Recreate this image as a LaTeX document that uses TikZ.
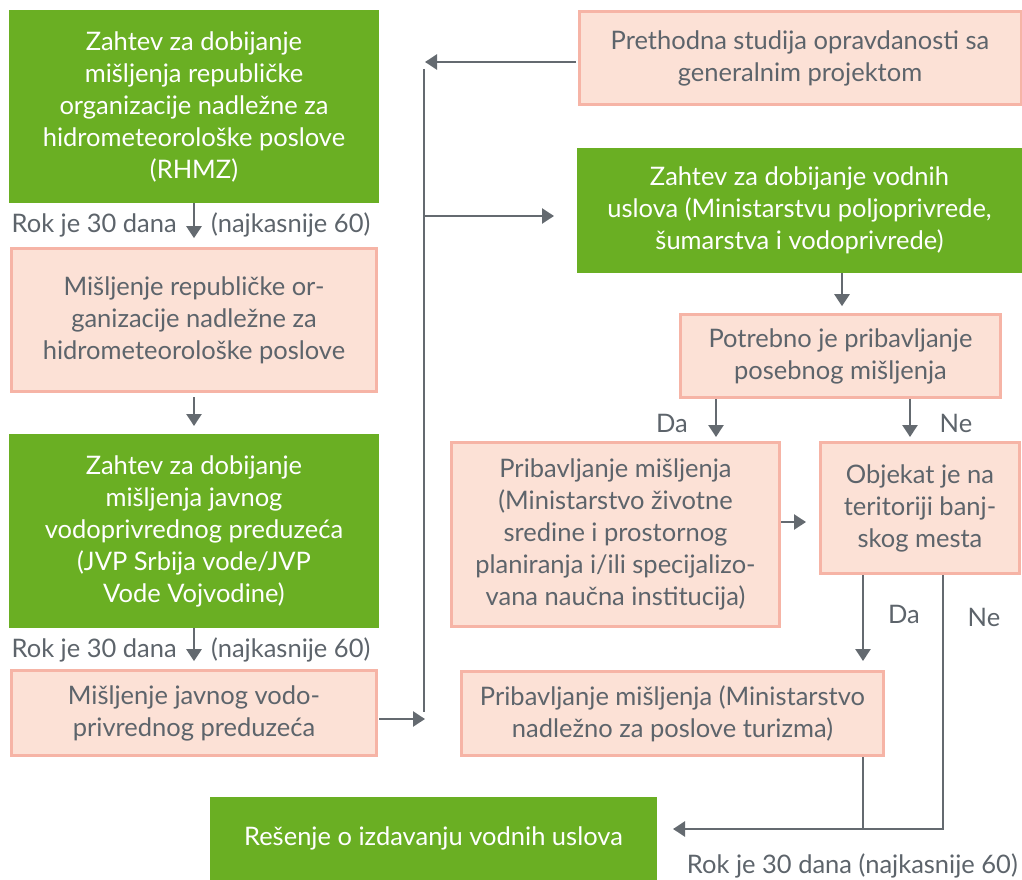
\documentclass[tikz,border=0pt]{standalone}
\usepackage{fontspec}
\setmainfont{Lato}
\usetikzlibrary{arrows.meta}
\definecolor{grn}{HTML}{6AAF23}
\definecolor{pinkfill}{HTML}{FCE1D6}
\definecolor{pinkline}{HTML}{F6B4A6}
\definecolor{txt}{HTML}{5D646B}
\definecolor{arr}{HTML}{646A70}
\tikzset{
  gbox/.style={fill=grn, draw=none, text=white, align=center, inner sep=0pt, font=\fontsize{25.5}{32}\selectfont},
  pbox/.style={fill=pinkfill, draw=pinkline, line width=3pt, text=txt, align=center, inner sep=0pt, font=\fontsize{25.5}{32}\selectfont},
  lbl/.style={text=txt, inner sep=0pt, font=\fontsize{25.5}{30}\selectfont},
  conn/.style={draw=arr, line width=2.5pt},
  arrow/.style={conn, -{Triangle[width=15pt,length=12pt]}}
}
\begin{document}
\begin{tikzpicture}[x=1pt,y=-1pt]
\useasboundingbox (0,0) rectangle (1022,880);
% left column
\node[gbox, minimum width=370pt, minimum height=193pt] (A) at (194,106.5)
  {Zahtev za dobijanje\\mišljenja republičke\\organizacije nadležne za\\hidrometeorološke poslove\\(RHMZ)};
\node[pbox, minimum width=365pt, minimum height=143pt] (B) at (194,320)
  {Mišljenje republičke or-\\ganizacije nadležne za\\hidrometeorološke poslove};
\node[gbox, minimum width=370pt, minimum height=194pt] (C) at (194,531)
  {Zahtev za dobijanje\\mišljenja javnog\\vodoprivrednog preduzeća\\(JVP Srbija vode/JVP\\Vode Vojvodine)};
\node[pbox, minimum width=365pt, minimum height=85pt] (D) at (194,713)
  {Mišljenje javnog vodo-\\privrednog preduzeća};
\node[gbox, minimum width=447pt, minimum height=83pt] (E) at (433.5,838.5)
  {Rešenje o izdavanju vodnih uslova};
% right part
\node[pbox, minimum width=442pt, minimum height=93pt] (F) at (800,58)
  {Prethodna studija opravdanosti sa\\generalnim projektom};
\node[gbox, minimum width=445pt, minimum height=125pt] (G) at (799.5,210.5)
  {Zahtev za dobijanje vodnih\\uslova (Ministarstvu poljoprivrede,\\šumarstva i vodoprivrede)};
\node[pbox, minimum width=320pt, minimum height=83pt] (H) at (840.5,356)
  {Potrebno je pribavljanje\\posebnog mišljenja};
\node[pbox, minimum width=328pt, minimum height=184pt] (I) at (615.5,534.5)
  {Pribavljanje mišljenja\\(Ministarstvo životne\\sredine i prostornog\\planiranja i/ili specijalizo-\\vana naučna institucija)};
\node[pbox, minimum width=199pt, minimum height=131pt] (J) at (920,508)
  {Objekat je na\\teritoriji banj-\\skog mesta};
\node[pbox, minimum width=422pt, minimum height=84pt] (K) at (672.5,713.5)
  {Pribavljanje mišljenja (Ministarstvo\\nadležno za poslove turizma)};
% coordinates
\coordinate (vtop) at (424,69);
\coordinate (vbot) at (424,712);
\coordinate (fa) at (425,62);
\coordinate (ga) at (424,216);
\coordinate (gt) at (554,216);
\coordinate (da) at (379,719);
\coordinate (dt) at (425,719);
\coordinate (hda) at (716,399);
\coordinate (hdt) at (716,437);
\coordinate (hna) at (910,399);
\coordinate (hnt) at (910,437);
\coordinate (jda) at (863,575);
\coordinate (jdt) at (863,661);
\coordinate (jna) at (943,575);
\coordinate (jn) at (943,829);
\coordinate (kj) at (863,829);
\coordinate (et) at (673,829);
\coordinate (ia) at (781,522);
\coordinate (it) at (806,522);
% connectors
\draw[arrow] (A.south) -- ++(0,35);
\draw[arrow] (B.south) ++(0,4) -- ++(0,29);
\draw[arrow] (C.south) -- ++(0,33);
\draw[conn] (vtop) -- (vbot);
\draw[arrow] (F.west) ++(-1.5,4) -- (fa);
\draw[arrow] (ga) -- (gt);
\draw[arrow] (da) -- (dt);
\draw[arrow] (G.south) ++(42.5,0) -- ++(0,33);
\draw[arrow] (hda) -- (hdt);
\draw[arrow] (hna) -- (hnt);
\draw[arrow] (ia) -- (it);
\draw[arrow] (jda) -- (jdt);
\draw[conn] (K.south -| kj) -- (kj);
\draw[arrow] (jna) -- (jn) -- (et);
% labels
\node[lbl, anchor=east] (l1) at (177,225) {Rok je 30 dana};
\node[lbl, anchor=west] (l2) at (211,225) {(najkasnije 60)};
\node[lbl, anchor=east] (l3) at (177,650) {Rok je 30 dana};
\node[lbl, anchor=west] (l4) at (211,650) {(najkasnije 60)};
\node[lbl] (l5) at (672,423) {Da};
\node[lbl] (l6) at (956,423) {Ne};
\node[lbl] (l7) at (904,614) {Da};
\node[lbl] (l8) at (984,617) {Ne};
\node[lbl, anchor=east] (l9) at (1018,866) {Rok je 30 dana (najkasnije 60)};
\end{tikzpicture}
\end{document}
